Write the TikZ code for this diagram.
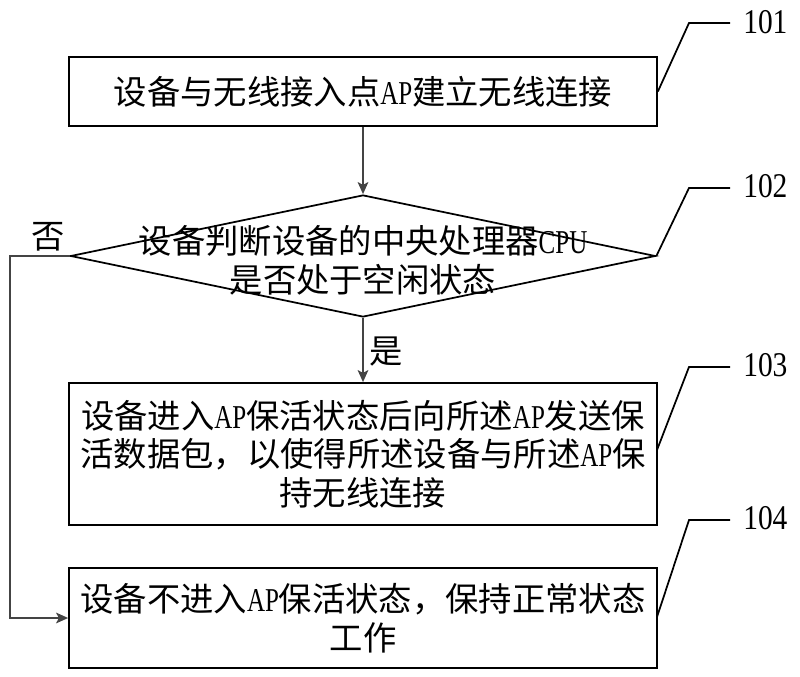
\documentclass[tikz,border=0pt]{standalone}
\usepackage{fontspec}
\setmainfont{Liberation Serif}
\newfontfamily\cjk{Noto Sans CJK SC}
\usetikzlibrary{shapes.geometric,arrows.meta}
\newcommand\lat[1]{{\rmfamily\scalebox{0.75}[1]{#1}}}
\newcommand\numlab[1]{{\rmfamily\fontsize{26}{26}\selectfont\scalebox{0.85}[1]{#1}}}
\definecolor{arrowgray}{HTML}{444444}
\tikzset{
  box/.style={draw=black, line width=1.3pt, rectangle, inner sep=0pt, minimum width=441pt,
    font=\cjk\fontsize{25}{29}\selectfont, align=center},
  flow/.style={draw=arrowgray, line width=1.2pt, -{Stealth[length=9pt,width=8pt,inset=2pt]}},
  leader/.style={draw=black, line width=1.3pt},
  txt/.style={font=\cjk\fontsize{25}{29}\selectfont, align=center, inner sep=0pt},
  reflabel/.style={anchor=west, inner sep=0pt}
}
\begin{document}
\begin{tikzpicture}[x=0.75pt,y=-0.75pt]
\useasboundingbox (0,0) rectangle (800,677);
% boxes
\node[box, minimum height=51.75pt] (b1) at (363,91.5) {设备与无线接入点\lat{AP}建立无线连接};
\node[draw=black, line width=1.3pt, diamond, inner sep=0pt, minimum width=438.75pt, minimum height=91.5pt] (d) at (363,256) {};
\node[txt] (dt) at (363,260) {设备判断设备的中央处理器\lat{CPU}\\是否处于空闲状态};
\node[box, minimum height=106.5pt] (b3) at (363,454) {设备进入\lat{AP}保活状态后向所述\lat{AP}发送保\\活数据包，以使得所述设备与所述\lat{AP}保\\持无线连接};
\node[box, minimum height=75pt] (b4) at (363,618) {设备不进入\lat{AP}保活状态，保持正常状态\\工作};
% flow arrows
\draw[flow] (b1.south) -- (d.north);
\draw[flow] (d.south) -- (b3.north);
\node[txt] (yes) at (386,352) {是};
\coordinate (nTop) at (10,256);
\coordinate (nBot) at (10,618);
\draw[flow] (d.west) -- (nTop) -- (nBot) -- (b4.west);
\node[txt] (no) at (48,237) {否};
% leaders
\coordinate (l1a) at (689,23); \coordinate (l1b) at (730,23);
\coordinate (l2a) at (689,188); \coordinate (l2b) at (730,188);
\coordinate (l3a) at (689,367); \coordinate (l3b) at (730,367);
\coordinate (l4a) at (689,520); \coordinate (l4b) at (730,520);
\coordinate (e3) at (657,450);
\coordinate (e4) at (657,617);
\draw[leader] (b1.east) -- (l1a) -- (l1b);
\draw[leader] (d.east) -- (l2a) -- (l2b);
\draw[leader] (e3) -- (l3a) -- (l3b);
\draw[leader] (e4) -- (l4a) -- (l4b);
\node[reflabel] (r1) at (743,22) {\numlab{101}};
\node[reflabel] (r2) at (743,186) {\numlab{102}};
\node[reflabel] (r3) at (743,365) {\numlab{103}};
\node[reflabel] (r4) at (743,518) {\numlab{104}};
\end{tikzpicture}
\end{document}
